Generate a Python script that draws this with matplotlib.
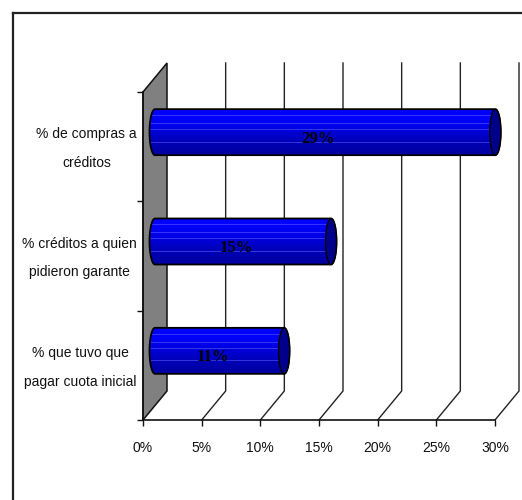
import numpy as np
import matplotlib
matplotlib.use("Agg")
import matplotlib.pyplot as plt
from matplotlib.lines import Line2D
from matplotlib.patches import Ellipse, PathPatch, Polygon
from matplotlib.path import Path
from matplotlib.transforms import ScaledTranslation

categories = ["% de compras a\ncréditos",
              "% créditos a quien\npidieron garante",
              "% que tuvo que\npagar cuota inicial"]
values = [29, 15, 11]
value_labels = ["29%", "15%", "11%"]
x_ticks = [0, 5, 10, 15, 20, 25, 30]
x_tick_labels = ["0%", "5%", "10%", "15%", "20%", "25%", "30%"]

W, H = 522, 500
L, R, T, B = 143, 495, 92, 420      # front plane in pixels

plt.rcParams["font.family"] = ["Liberation Sans"]

fig = plt.figure(figsize=(W / 100, H / 100), dpi=100)
ax = fig.add_axes([L / W, 1 - B / H, (R - L) / W, (B - T) / H])

# pixels -> data units for the fake 3d depth
ppx = (R - L) / 30
ppy = (B - T) / 3
dx, dy = 24 / ppx, 29 / ppy

# side wall
ax.add_patch(Polygon([(0, 0), (dx, -dy), (dx, 3 - dy), (0, 3)], closed=True,
                     fc="#808080", ec="#111111", lw=1.1, clip_on=False, zorder=1))

# grid on back wall and floor
for t in x_ticks[1:]:
    ax.plot([t, t + dx, t + dx], [3, 3 - dy, -dy], color="#222222", lw=1,
            clip_on=False, zorder=1)

# bars
grad = np.array([0.0, 0.05, 0.2, 0.45, 0.7, 0.88, 1.0]).reshape(-1, 1)
top_col = np.array([0, 0, 255]) / 255
bot_col = np.array([0, 0, 165]) / 255
grad_img = (top_col + (bot_col - top_col) * grad[:, :, None])
stripes = [0.13, 0.30, 0.43, 0.71]
bar_h = 46 / ppy
cap_w = 11 / ppx

t_arc = np.linspace(-np.pi / 2, np.pi / 2, 30)
for i, v in enumerate(values):
    cx0 = dx / 2
    cx1 = v + dx / 2
    cy = i + 0.5 - dy / 2
    y0, y1 = cy - bar_h / 2, cy + bar_h / 2
    right = np.c_[cx1 + cap_w / 2 * np.cos(t_arc), cy + bar_h / 2 * np.sin(t_arc)]
    left = np.c_[cx0 - cap_w / 2 * np.cos(t_arc[::-1]), cy + bar_h / 2 * np.sin(t_arc[::-1])]
    outline = Path(np.r_[right, left, right[:1]])
    body = PathPatch(outline, fc="none", ec="black", lw=1.3, clip_on=False, zorder=4)
    ax.add_patch(body)
    im = ax.imshow(grad_img, extent=[cx0 - cap_w, cx1 + cap_w, y1, y0], aspect="auto",
                   interpolation="bilinear", zorder=3)
    im.set_clip_path(PathPatch(outline, transform=ax.transData))
    for s in stripes:
        ln, = ax.plot([cx0 - cap_w, cx1 + cap_w], [y0 + s * bar_h] * 2, color="#6a6aff",
                      lw=0.7, alpha=0.5, zorder=3.5)
        ln.set_clip_path(PathPatch(outline, transform=ax.transData))
    ax.add_patch(Ellipse((cx1, cy), cap_w, bar_h, fc="#00008a", ec="black", lw=1,
                         clip_on=False, zorder=5))
    ax.annotate(value_labels[i], (v / 2, i + 0.5), xytext=(5, 8), textcoords="offset pixels",
                ha="center", va="center", fontsize=12, fontweight="bold",
                family=["Liberation Serif"], color="black", zorder=6,
                annotation_clip=False)

ax.set_xlim(0, 30)
ax.set_ylim(3, 0)
ax.set_xticks(x_ticks)
ax.set_xticklabels(x_tick_labels)
ax.set_yticks([0, 1, 2, 3])
ax.set_yticks([0.5, 1.5, 2.5], labels=categories, minor=True)
ax.set_yticklabels([])
ax.tick_params(axis="y", which="minor", length=0, pad=4.5)
ax.tick_params(axis="both", which="major", length=4, width=1, color="#111111")
ax.tick_params(axis="x", labelsize=10, pad=11, labelcolor="#111111")
ax.tick_params(axis="y", which="minor", labelsize=10, labelcolor="#111111")
shift = ScaledTranslation(0, -2 / 100, fig.dpi_scale_trans)
for lab in ax.get_yticklabels(minor=True):
    lab.set_multialignment("center")
    lab.set_linespacing(2.35)
    lab.set_verticalalignment("center")
    lab.set_transform(lab.get_transform() + shift)

ax.patch.set_visible(False)
for side in ["top", "right"]:
    ax.spines[side].set_visible(False)
for side in ["left", "bottom"]:
    ax.spines[side].set_color("#111111")
    ax.spines[side].set_linewidth(1.2)

# chart frame, only top and left show in the crop
fig.add_artist(Line2D([13 / W, 1], [1 - 13 / H] * 2, color="#222222", lw=1.6))
fig.add_artist(Line2D([13 / W] * 2, [0, 1 - 13 / H], color="#222222", lw=1.6))

fig.savefig("out.png", dpi=100)
